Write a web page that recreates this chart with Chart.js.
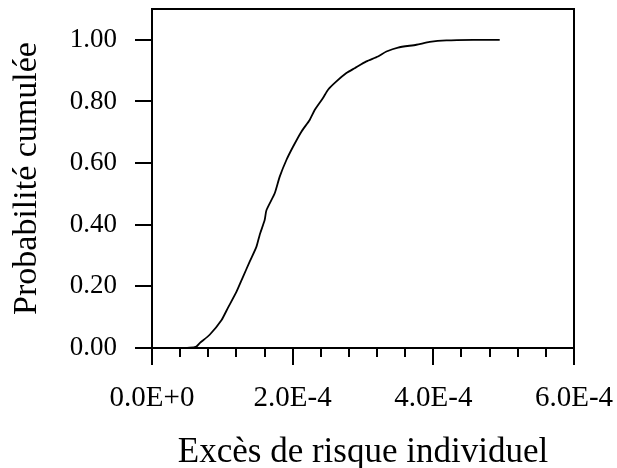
<!DOCTYPE html>
<html>
<head>
<meta charset="utf-8">
<script src="https://cdn.jsdelivr.net/npm/chart.js@4/dist/chart.umd.min.js"></script>
<style>
html,body{margin:0;padding:0;background:#fff;}
#wrap{width:617px;height:468px;position:relative;}
</style>
</head>
<body>
<div id="wrap"><canvas id="c" width="617" height="468"></canvas></div>
<script>
// Excès de risque individuel (x) vs Probabilité cumulée (y)
const xValues = [0.394e-4, 0.536e-4, 0.631e-4, 0.678e-4, 0.820e-4, 0.987e-4, 1.081e-4, 1.200e-4, 1.294e-4, 1.389e-4,
  1.484e-4, 1.531e-4, 1.602e-4, 1.627e-4, 1.745e-4, 1.816e-4, 1.911e-4, 2.005e-4, 2.124e-4, 2.242e-4,
  2.313e-4, 2.431e-4, 2.503e-4, 2.622e-4, 2.764e-4, 2.882e-4, 3.048e-4, 3.213e-4, 3.333e-4, 3.498e-4,
  3.759e-4, 3.948e-4, 4.186e-4, 4.564e-4, 4.944e-4];
const yValues = [0.000, 0.001, 0.005, 0.016, 0.043, 0.090, 0.131, 0.182, 0.231, 0.280,
  0.328, 0.367, 0.415, 0.447, 0.502, 0.556, 0.610, 0.653, 0.702, 0.740,
  0.772, 0.811, 0.838, 0.865, 0.892, 0.908, 0.930, 0.946, 0.962, 0.975,
  0.984, 0.993, 0.998, 1.000, 1.000];
const xTickLabels = ['0.0E+0', '2.0E-4', '4.0E-4', '6.0E-4'];
const yTickLabels = ['0.00', '0.20', '0.40', '0.60', '0.80', '1.00'];
const xTitle = 'Excès de risque individuel';
const yTitle = 'Probabilité cumulée';

const points = xValues.map((x, i) => ({x: x, y: yValues[i]}));
const FONT = '"Liberation Serif", "Times New Roman", serif';

const framePlugin = {
  id: 'frame',
  afterDraw(chart) {
    const {ctx, chartArea: a, scales: {x}} = chart;
    ctx.save();
    ctx.strokeStyle = '#000';
    ctx.lineWidth = 2;
    ctx.beginPath();
    ctx.moveTo(a.left, a.top);
    ctx.lineTo(a.right, a.top);
    ctx.lineTo(a.right, a.bottom);
    ctx.stroke();
    // x ticks (major + minor)
    const step = 0.4e-4;
    for (let k = 0; k <= 15; k++) {
      const px = Math.round(x.getPixelForValue(k * step));
      const len = (k % 5 === 0) ? 17 : 9;
      ctx.beginPath();
      ctx.moveTo(px, a.bottom);
      ctx.lineTo(px, a.bottom + len);
      ctx.stroke();
    }
    ctx.restore();
  }
};

new Chart(document.getElementById('c'), {
  type: 'scatter',
  data: {
    datasets: [{
      data: points,
      showLine: true,
      borderColor: '#000',
      borderWidth: 1.8,
      pointRadius: 0,
      fill: false,
      tension: 0.2
    }]
  },
  options: {
    responsive: false,
    animation: false,
    layout: {padding: {left: 0, right: 43, top: 9, bottom: 0}},
    plugins: {legend: {display: false}, tooltip: {enabled: false}},
    scales: {
      x: {
        type: 'linear',
        min: 0, max: 6e-4,
        afterFit: s => { s.height = 120; s.paddingLeft = 0; s.paddingRight = 0; },
        afterBuildTicks: s => { s.ticks = [0, 2e-4, 4e-4, 6e-4].map(v => ({value: v})); },
        ticks: {
          callback: (v, i) => xTickLabels[i],
          font: {family: FONT, size: 29},
          color: '#000',
          padding: 16,
          maxRotation: 0,
          autoSkip: false
        },
        grid: {drawOnChartArea: false, drawTicks: true, tickLength: 17, tickColor: 'rgba(0,0,0,0)', color: 'rgba(0,0,0,0)'},
        border: {display: true, color: '#000', width: 2},
        title: {display: true, text: xTitle, font: {family: FONT, size: 35, lineHeight: 0.86}, color: '#000', padding: {top: 0, bottom: 0}}
      },
      y: {
        type: 'linear',
        min: 0, max: 1.1,
        afterFit: s => { s.width = 152; s.paddingTop = 0; s.paddingBottom = 0; },
        afterBuildTicks: s => { s.ticks = [0, 0.2, 0.4, 0.6, 0.8, 1.0].map(v => ({value: v})); },
        ticks: {
          callback: (v, i) => yTickLabels[i],
          font: {family: FONT, size: 27},
          color: '#000',
          padding: 18,
          autoSkip: false
        },
        grid: {drawOnChartArea: false, drawTicks: true, tickLength: 17, tickColor: '#000', tickWidth: 2, color: '#000', lineWidth: 2},
        border: {display: true, color: '#000', width: 2},
        title: {display: true, text: yTitle, font: {family: FONT, size: 34}, color: '#000', padding: {top: 7, bottom: 0}}
      }
    }
  },
  plugins: [framePlugin]
});
</script>
</body>
</html>
